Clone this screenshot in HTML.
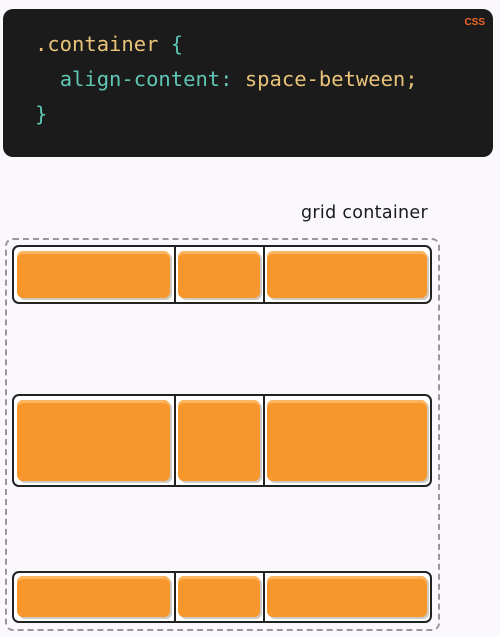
<!DOCTYPE html>
<html><head><style>
body{margin:0;width:500px;height:637px;background:#faf8fc;position:relative;overflow:hidden;font-family:"Liberation Sans",sans-serif}
.code{position:absolute;left:3px;top:9px;width:490px;height:148px;background:#1b1b1b;border-radius:10px}
.code pre{margin:0;position:absolute;left:32px;top:18px;font-family:"DejaVu Sans Mono","Liberation Mono",monospace;font-size:20.5px;line-height:35px;color:#e8c379}
.t{color:#5fc6b5}
.css{position:absolute;right:8px;top:8px;color:#f2692a;font-size:10px;font-weight:bold}
.lbl{position:absolute;left:301px;top:203px;font-size:17.5px;color:#1a1a1a;font-family:"DejaVu Sans",sans-serif;letter-spacing:0.3px}
.dash{position:absolute;left:5px;top:238px;width:431px;height:389px;border:2px dashed #9a979c;border-radius:8px}
.row{position:absolute;left:12px;width:416px;border:2px solid #222;border-radius:7px;background:#fff}
.div{position:absolute;top:0;bottom:0;width:2px;background:#222}
.it{position:absolute;background:#f7962a;border-radius:6px;box-shadow:inset 0 3px 0 #fbb560,2px 2px 0 #cfc9c0;}
</style></head><body>
<div class="code"><div class="css">CSS</div><pre>.container <span class="t">{</span>
  <span class="t">align-content:</span> space-between;
<span class="t">}</span></pre></div>
<div class="lbl">grid container</div>
<div class="dash"></div>

<div class="row" style="top:245px;height:55px"><div class="div" style="left:160px"></div><div class="div" style="left:249px"></div>
<div class="it" style="left:3px;top:4px;width:153px;height:47px"></div>
<div class="it" style="left:164px;top:4px;width:82px;height:47px"></div>
<div class="it" style="left:253px;top:4px;width:160px;height:47px"></div></div>

<div class="row" style="top:394px;height:89px"><div class="div" style="left:160px"></div><div class="div" style="left:249px"></div>
<div class="it" style="left:3px;top:4px;width:153px;height:81px"></div>
<div class="it" style="left:164px;top:4px;width:82px;height:81px"></div>
<div class="it" style="left:253px;top:4px;width:160px;height:81px"></div></div>

<div class="row" style="top:571px;height:48px"><div class="div" style="left:160px"></div><div class="div" style="left:249px"></div>
<div class="it" style="left:3px;top:3px;width:153px;height:41px"></div>
<div class="it" style="left:164px;top:3px;width:82px;height:41px"></div>
<div class="it" style="left:253px;top:3px;width:160px;height:41px"></div></div>
</body></html>
